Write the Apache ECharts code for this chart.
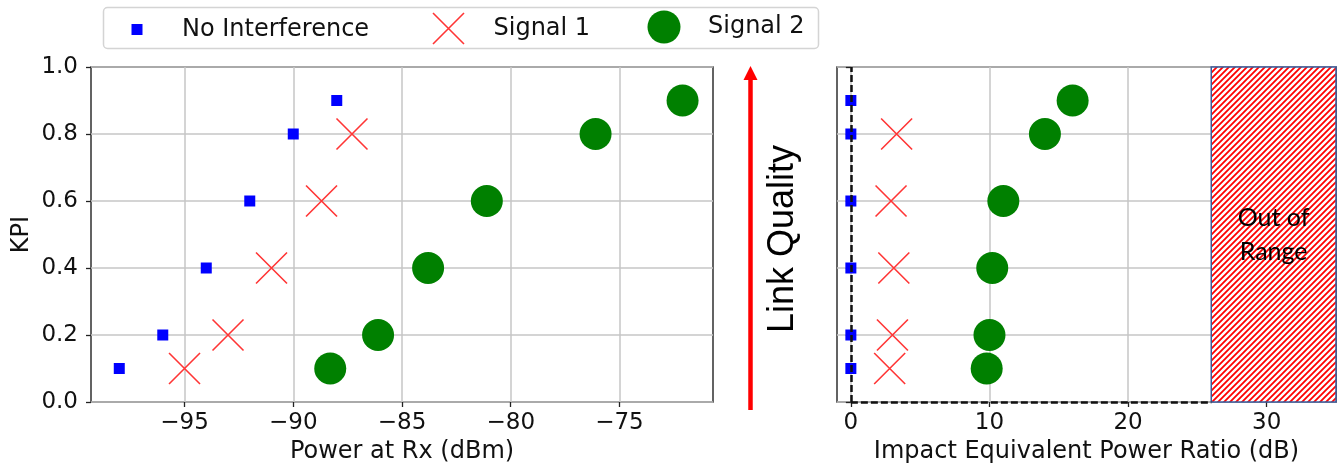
<!DOCTYPE html>
<html>
<head>
<meta charset="utf-8">
<script src="https://cdn.jsdelivr.net/npm/echarts@6/dist/echarts.min.js"></script>
<style>
html, body { margin: 0; padding: 0; background: #fff; }
#chart { width: 1340px; height: 468px; }
</style>
</head>
<body>
<div id="chart"></div>
<script>
// KPI levels (y) for each marker group
var kpi = [0.1, 0.2, 0.4, 0.6, 0.8, 0.9];
var kpiSig1 = [0.1, 0.2, 0.4, 0.6, 0.8];

// left panel: power at Rx (dBm)
var powerNoInt = [-98, -96, -94, -92, -90, -88];
var powerSig1 = [-95, -93, -91, -88.7, -87.3];
var powerSig2 = [-88.3, -86.1, -83.8, -81.1, -76.1, -72.1];

// right panel: impact equivalent power ratio (dB)
var ratioNoInt = [0, 0, 0, 0, 0, 0];
var ratioSig1 = [2.8, 3.0, 3.1, 2.9, 3.3];
var ratioSig2 = [9.8, 10.0, 10.2, 11.0, 14.0, 16.0];

var powerTicks = [-95, -90, -85, -80, -75];
var ratioTicks = [0, 10, 20, 30];
var outOfRange = [26, 35];

var FONT = 'DejaVu Sans';
var xPath = 'path://M0,0L10,10M10,0L0,10';
var styleNoInt = { color: '#0000ff', opacity: 1 };
var styleSig1 = { color: 'none', borderColor: '#ff3535', borderWidth: 1.6, opacity: 1 };
var styleSig2 = { color: '#008000', opacity: 1 };

function zip(xs, ys) {
	var res = [];
	for (var i = 0; i < xs.length; i++) res.push([xs[i], ys[i]]);
	return res;
}

// red diagonal hatch for the "Out of Range" block
function hatch() {
	var c = document.createElement('canvas');
	c.width = 6; c.height = 6;
	var g = c.getContext('2d');
	g.fillStyle = '#ffffff';
	g.fillRect(0, 0, 6, 6);
	g.strokeStyle = '#ff0000';
	g.lineWidth = 1.8;
	g.beginPath();
	g.moveTo(-1, 7); g.lineTo(7, -1);
	g.moveTo(-1, 1); g.lineTo(1, -1);
	g.moveTo(5, 7); g.lineTo(7, 5);
	g.stroke();
	return c;
}

var tickStyle = { show: true, length: 5, lineStyle: { color: '#222', width: 1.3 } };
var splitStyle = { show: true, lineStyle: { color: '#c6c6c6', width: 1.5 } };
var labelFont = { fontFamily: FONT, fontSize: 23, color: '#111' };
var nameFont = { fontFamily: FONT, fontSize: 24, color: '#111' };

// one legend per entry so each icon keeps its own size
function legendAt(name, left, top, size, pad, icon, style) {
	return {
		left: left,
		top: top,
		padding: 0,
		z: 10,
		itemWidth: size,
		itemHeight: size,
		selectedMode: false,
		data: [{ name: name, icon: icon, itemStyle: style }],
		textStyle: { fontFamily: FONT, fontSize: 24, color: '#111', padding: [4, 0, 0, pad] }
	};
}

var myChart = echarts.init(document.getElementById('chart'));

var option = {
	animation: false,
	backgroundColor: '#fff',
	legend: [
		legendAt('No Interference', 131.5, 17.5, 11, 34.5, 'rect', styleNoInt),
		legendAt('Signal 1', 430.5, 10.5, 31, 24.5, xPath, styleSig1),
		legendAt('Signal 2', 647.5, 10.5, 33, 22.5, 'circle', styleSig2)
	],
	grid: [
		{ left: 91, top: 67, width: 622, height: 335, show: true, borderColor: '#222', borderWidth: 1.4, outerBoundsMode: 'none' },
		{ left: 837, top: 67, width: 499, height: 335, show: true, borderColor: '#222', borderWidth: 1.4, outerBoundsMode: 'none' }
	],
	xAxis: [
		{
			gridIndex: 0, type: 'value', min: -99.3, max: -70.7,
			name: 'Power at Rx (dBm)', nameLocation: 'middle', nameGap: 35,
			nameTextStyle: nameFont,
			axisLine: { show: false },
			axisTick: Object.assign({ customValues: powerTicks }, tickStyle),
			axisLabel: Object.assign({ customValues: powerTicks, margin: 10, formatter: function (v) { return String(v).replace('-', '\u2212'); } }, labelFont),
			splitLine: splitStyle
		},
		{
			gridIndex: 1, type: 'value', min: -1, max: 35,
			name: 'Impact Equivalent Power Ratio (dB)', nameLocation: 'middle', nameGap: 35,
			nameTextStyle: nameFont,
			axisLine: { show: false },
			axisTick: Object.assign({ customValues: ratioTicks }, tickStyle),
			axisLabel: Object.assign({ customValues: ratioTicks, margin: 10 }, labelFont),
			splitLine: splitStyle
		}
	],
	yAxis: [
		{
			gridIndex: 0, type: 'value', min: 0, max: 1, interval: 0.2,
			name: 'KPI', nameLocation: 'middle', nameGap: 57,
			nameTextStyle: nameFont,
			axisLine: { show: false },
			axisTick: tickStyle,
			axisLabel: Object.assign({ margin: 13, formatter: function (v) { return v.toFixed(1); } }, labelFont),
			splitLine: splitStyle
		},
		{
			gridIndex: 1, type: 'value', min: 0, max: 1, interval: 0.2,
			axisLine: { show: false },
			axisTick: tickStyle,
			axisLabel: { show: false },
			splitLine: splitStyle
		}
	],
	graphic: [
		{
			type: 'rect', z: 1,
			shape: { x: 103.5, y: 7.5, width: 715, height: 41, r: 4 },
			style: { fill: '#fff', stroke: '#d4d4d4', lineWidth: 1.5 }
		},
		{
			type: 'line', z: 5,
			shape: { x1: 750.5, y1: 410, x2: 750.5, y2: 76 },
			style: { stroke: '#ff0000', lineWidth: 4.5 }
		},
		{
			type: 'polygon', z: 5,
			shape: { points: [[743.5, 80], [757.5, 80], [750.5, 66]] },
			style: { fill: '#ff0000' }
		},
		{
			type: 'text', z: 5,
			x: 783, y: 239, rotation: Math.PI / 2,
			style: {
				text: 'Link Quality', fontFamily: 'Liberation Sans', fontSize: 36,
				fill: '#000', align: 'center', verticalAlign: 'middle'
			}
		}
	],
	series: [
		{
			name: 'No Interference', type: 'scatter', xAxisIndex: 0, yAxisIndex: 0,
			symbol: 'rect', symbolSize: 11, itemStyle: styleNoInt, z: 4,
			data: zip(powerNoInt, kpi)
		},
		{
			name: 'Signal 1', type: 'scatter', xAxisIndex: 0, yAxisIndex: 0,
			symbol: xPath, symbolSize: 31, itemStyle: styleSig1, z: 4,
			data: zip(powerSig1, kpiSig1)
		},
		{
			name: 'Signal 2', type: 'scatter', xAxisIndex: 0, yAxisIndex: 0,
			symbol: 'circle', symbolSize: 32, itemStyle: styleSig2, z: 4,
			data: zip(powerSig2, kpi)
		},
		{
			name: 'No Interference', type: 'scatter', xAxisIndex: 1, yAxisIndex: 1,
			symbol: 'rect', symbolSize: 11, itemStyle: styleNoInt, z: 4,
			data: zip(ratioNoInt, kpi),
			markArea: {
				silent: true,
				itemStyle: { color: { image: hatch(), repeat: 'repeat' }, borderColor: '#3b5a9a', borderWidth: 1.5, opacity: 1 },
				label: {
					show: true, position: 'inside', formatter: 'Out of\nRange',
					fontFamily: 'Lato', fontSize: 25, lineHeight: 34, color: '#000'
				},
				data: [[{ xAxis: outOfRange[0], yAxis: 0 }, { xAxis: outOfRange[1], yAxis: 1 }]]
			},
			markLine: {
				silent: true, symbol: 'none',
				label: { show: false },
				lineStyle: { color: '#111', type: [7, 3], width: 2.5, opacity: 1 },
				data: [
					{ xAxis: 0 },
					[{ coord: [0, 0] }, { coord: [outOfRange[0], 0] }]
				]
			}
		},
		{
			name: 'Signal 1', type: 'scatter', xAxisIndex: 1, yAxisIndex: 1,
			symbol: xPath, symbolSize: 31, itemStyle: styleSig1, z: 4,
			data: zip(ratioSig1, kpiSig1)
		},
		{
			name: 'Signal 2', type: 'scatter', xAxisIndex: 1, yAxisIndex: 1,
			symbol: 'circle', symbolSize: 32, itemStyle: styleSig2, z: 4,
			data: zip(ratioSig2, kpi)
		}
	]
};

myChart.setOption(option);
</script>
</body>
</html>
